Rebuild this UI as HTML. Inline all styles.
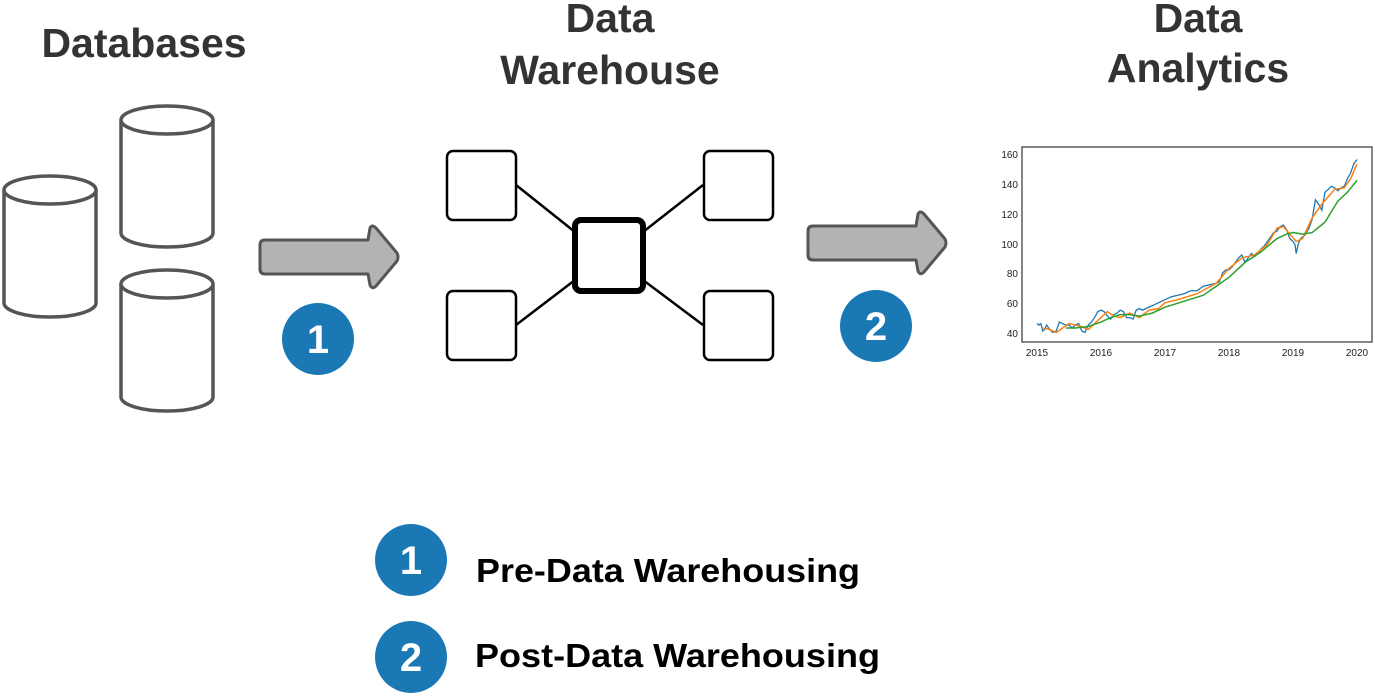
<!DOCTYPE html>
<html><head><meta charset="utf-8"><style>html,body{margin:0;padding:0;background:#fff}svg{display:block}</style></head>
<body>
<svg width="1375" height="698" viewBox="0 0 1375 698" xmlns="http://www.w3.org/2000/svg" font-family="Liberation Sans, Arial, sans-serif">
<rect width="1375" height="698" fill="#fff"/>
<g font-weight="bold" font-size="41" fill="#333" text-anchor="middle">
<text x="144" y="57">Databases</text>
<text x="610" y="32">Data</text>
<text x="610" y="84">Warehouse</text>
<text x="1198" y="32">Data</text>
<text x="1198" y="82">Analytics</text>
</g>
<g fill="#fff" stroke="#555" stroke-width="3.5">
<path d="M4,190 L4,303 A46,14 0 0 0 96,303 L96,190"/>
<ellipse cx="50" cy="190" rx="46" ry="14"/>
<path d="M121,120 L121,233 A46,14 0 0 0 213,233 L213,120"/>
<ellipse cx="167" cy="120" rx="46" ry="14"/>
<path d="M121,284 L121,397 A46,14 0 0 0 213,397 L213,284"/>
<ellipse cx="167" cy="284" rx="46" ry="14"/>
</g>
<g fill="#b3b3b3" stroke="#555" stroke-width="3" stroke-linejoin="round">
<path d="M265,240 L368,240 L370,228 Q372,224 376,228 L397,253 Q399,257 397,261 L376,286 Q372,290 370,285 L368,274 L265,274 Q260,274 260,269 L260,245 Q260,240 265,240 Z"/>
<path d="M813,226 L916,226 L918,214 Q920,210 924,214 L945,239 Q947,243 945,247 L924,272 Q920,276 918,271 L916,260 L813,260 Q808,260 808,255 L808,231 Q808,226 813,226 Z"/>
</g>
<g fill="#1a78b4"><circle cx="318" cy="339" r="36"/><circle cx="876" cy="326" r="36"/><circle cx="411" cy="560" r="36"/><circle cx="411" cy="657" r="36"/></g>
<g fill="#fff" font-weight="bold" font-size="40" text-anchor="middle">
<text x="318" y="353">1</text><text x="876" y="340">2</text><text x="411" y="574">1</text><text x="411" y="671">2</text>
</g>
<g stroke="#000" stroke-width="2.5" fill="none">
<line x1="516" y1="185" x2="575" y2="232"/><line x1="703" y1="185" x2="643" y2="232"/>
<line x1="516" y1="325" x2="575" y2="280"/><line x1="703" y1="325" x2="643" y2="280"/>
</g>
<g fill="#fff" stroke="#000" stroke-width="2.5">
<rect x="447" y="151" width="69" height="69" rx="6"/><rect x="704" y="151" width="69" height="69" rx="6"/>
<rect x="447" y="291" width="69" height="69" rx="6"/><rect x="704" y="291" width="69" height="69" rx="6"/>
<rect x="575" y="220" width="68" height="71" rx="6" stroke-width="6"/>
</g>
<rect x="1022" y="147" width="350" height="195" fill="#fff" stroke="#444" stroke-width="1.3"/>
<g font-size="10" fill="#222" text-anchor="end">
<text x="1018" y="158">160</text><text x="1018" y="188">140</text><text x="1018" y="218">120</text><text x="1018" y="248">100</text><text x="1018" y="277">80</text><text x="1018" y="307">60</text><text x="1018" y="337">40</text>
</g>
<g font-size="10" fill="#222" text-anchor="middle">
<text x="1037" y="356">2015</text><text x="1101" y="356">2016</text><text x="1165" y="356">2017</text><text x="1229" y="356">2018</text><text x="1293" y="356">2019</text><text x="1357" y="356">2020</text>
</g>
<svg x="1037" y="155" width="320" height="179" viewBox="0 0 500 120" preserveAspectRatio="none" overflow="visible">
<g fill="none">
<polyline vector-effect="non-scaling-stroke" stroke="#1f77b4" stroke-width="1.3" points="0,113 3,114 6,113 9,118 12,117 15,114 20,117 25,119 30,118 35,112 40,113 45,114 50,114 55,116 60,114 65,113 70,118 75,119 80,114 85,112 90,109 95,105 100,104 105,105 110,108 115,110 120,107 125,106 130,104 135,105 140,109 145,109 150,110 155,104 160,103 165,104 170,103 175,102 180,101 185,100 190,99 195,98 200,97 210,95 220,94 230,93 240,91 250,91 260,88 270,87 280,86 285,85 290,79 295,77 300,77 305,75 310,72 315,69 320,67 325,72 330,69 335,66 340,68 345,66 350,63 355,61 360,58 365,55 370,52 375,51 380,48 385,47 390,50 395,56 400,58 403,60 405,66 408,60 412,56 418,54 425,49 430,43 435,30 440,33 445,37 450,25 455,23 460,21 465,22 470,24 475,22 480,21 485,16 490,12 495,6 500,3"/>
<polyline vector-effect="non-scaling-stroke" stroke="#ff7f0e" stroke-width="1.5" points="10,116 20,117 30,119 40,116 50,113 60,114 70,115 80,117 90,113 100,109 110,105 120,108 130,109 145,106 160,109 175,104 190,103 200,99 220,97 250,93 280,86 290,81 300,76 320,69 340,67 360,60 375,49 385,48 395,53 405,58 415,56 430,42 445,33 455,28 465,23 480,22 490,16 500,6"/>
<polyline vector-effect="non-scaling-stroke" stroke="#2ca02c" stroke-width="1.5" points="45,116 60,116 80,115 100,112 115,109 130,107 145,107 160,108 180,106 200,102 230,98 260,94 280,88 300,82 325,72 350,65 375,56 390,53 400,52 415,53 430,52 450,45 470,31 485,25 500,17"/>
</g>
</svg>
<g font-weight="bold" font-size="33" fill="#000">
<text x="476" y="582" textLength="384" lengthAdjust="spacingAndGlyphs">Pre-Data Warehousing</text>
<text x="475" y="667" textLength="405" lengthAdjust="spacingAndGlyphs">Post-Data Warehousing</text>
</g>
</svg>
</body></html>
